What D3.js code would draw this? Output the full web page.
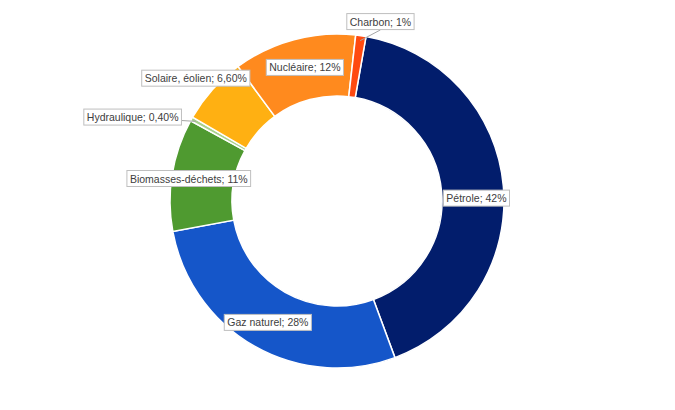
<!DOCTYPE html>
<html><head><meta charset="utf-8">
<script src="https://cdn.jsdelivr.net/npm/d3@7"></script>
<style>body{margin:0;background:#fff}text{font-family:"Liberation Sans",Arial,sans-serif}</style>
</head><body><div id="chart"></div>
<script>
var categories = ["Pétrole", "Gaz naturel", "Biomasses-déchets", "Hydraulique", "Solaire, éolien", "Nucléaire", "Charbon"];
var values = [42, 28, 11, 0.4, 6.6, 12, 1];
var labels = ["Pétrole; 42%", "Gaz naturel; 28%", "Biomasses-déchets; 11%", "Hydraulique; 0,40%", "Solaire, éolien; 6,60%", "Nucléaire; 12%", "Charbon; 1%"];
var colors = ["#021d6c", "#1556c9", "#4f9a30", "#a9d18e", "#ffb012", "#ff8a1e", "#ff4a10"];
// label anchor: radius and pixel nudge per slice
var labelPos = [[140, 0, 10], [140, 0, 0], [140, -10, 0], [160, -65, -5], [140, -37, -29], [140, 4, 2], [185, 17, 4]];

var width = 675, height = 410, cx = 337, cy = 201, rOut = 167, rIn = 105;
var svg = d3.select("#chart").append("svg").attr("width", width).attr("height", height);
var g = svg.append("g").attr("transform", "translate(" + cx + "," + cy + ")");

var start = 10 * Math.PI / 180;
var pie = d3.pie().sort(null).startAngle(start).endAngle(start + 2 * Math.PI);
var arcs = pie(values);
var arc = d3.arc().innerRadius(rIn).outerRadius(rOut);

g.selectAll("path.slice").data(arcs).enter().append("path")
  .attr("d", arc).attr("fill", function(d, i) { return colors[i]; })
  .attr("stroke", "#fff").attr("stroke-width", 1.5);

arcs.forEach(function(d, i) {
  var a = (d.startAngle + d.endAngle) / 2;
  var lp = labelPos[i];
  var x = Math.sin(a) * lp[0] + lp[1], y = -Math.cos(a) * lp[0] + lp[2];
  if (i == 3 || i == 6) {
    var ex = Math.sin(a) * (rOut - 5), ey = -Math.cos(a) * (rOut - 5);
    g.append("line").attr("x1", ex).attr("y1", ey).attr("x2", x).attr("y2", y + (i == 6 ? 8 : 0))
      .attr("stroke", "#a6a6a6").attr("stroke-width", 1);
  }
  var lg = g.append("g");
  var t = lg.append("text").attr("x", x).attr("y", y).attr("text-anchor", "middle")
    .attr("dy", "0.35em").attr("font-size", 10.5).attr("fill", "#404040").text(labels[i]);
  var bb = t.node().getBBox();
  lg.insert("rect", "text").attr("x", bb.x - 3).attr("y", bb.y - 2).attr("width", bb.width + 6)
    .attr("height", bb.height + 4).attr("fill", "#fff").attr("stroke", "#bfbfbf");
});
</script></body></html>
